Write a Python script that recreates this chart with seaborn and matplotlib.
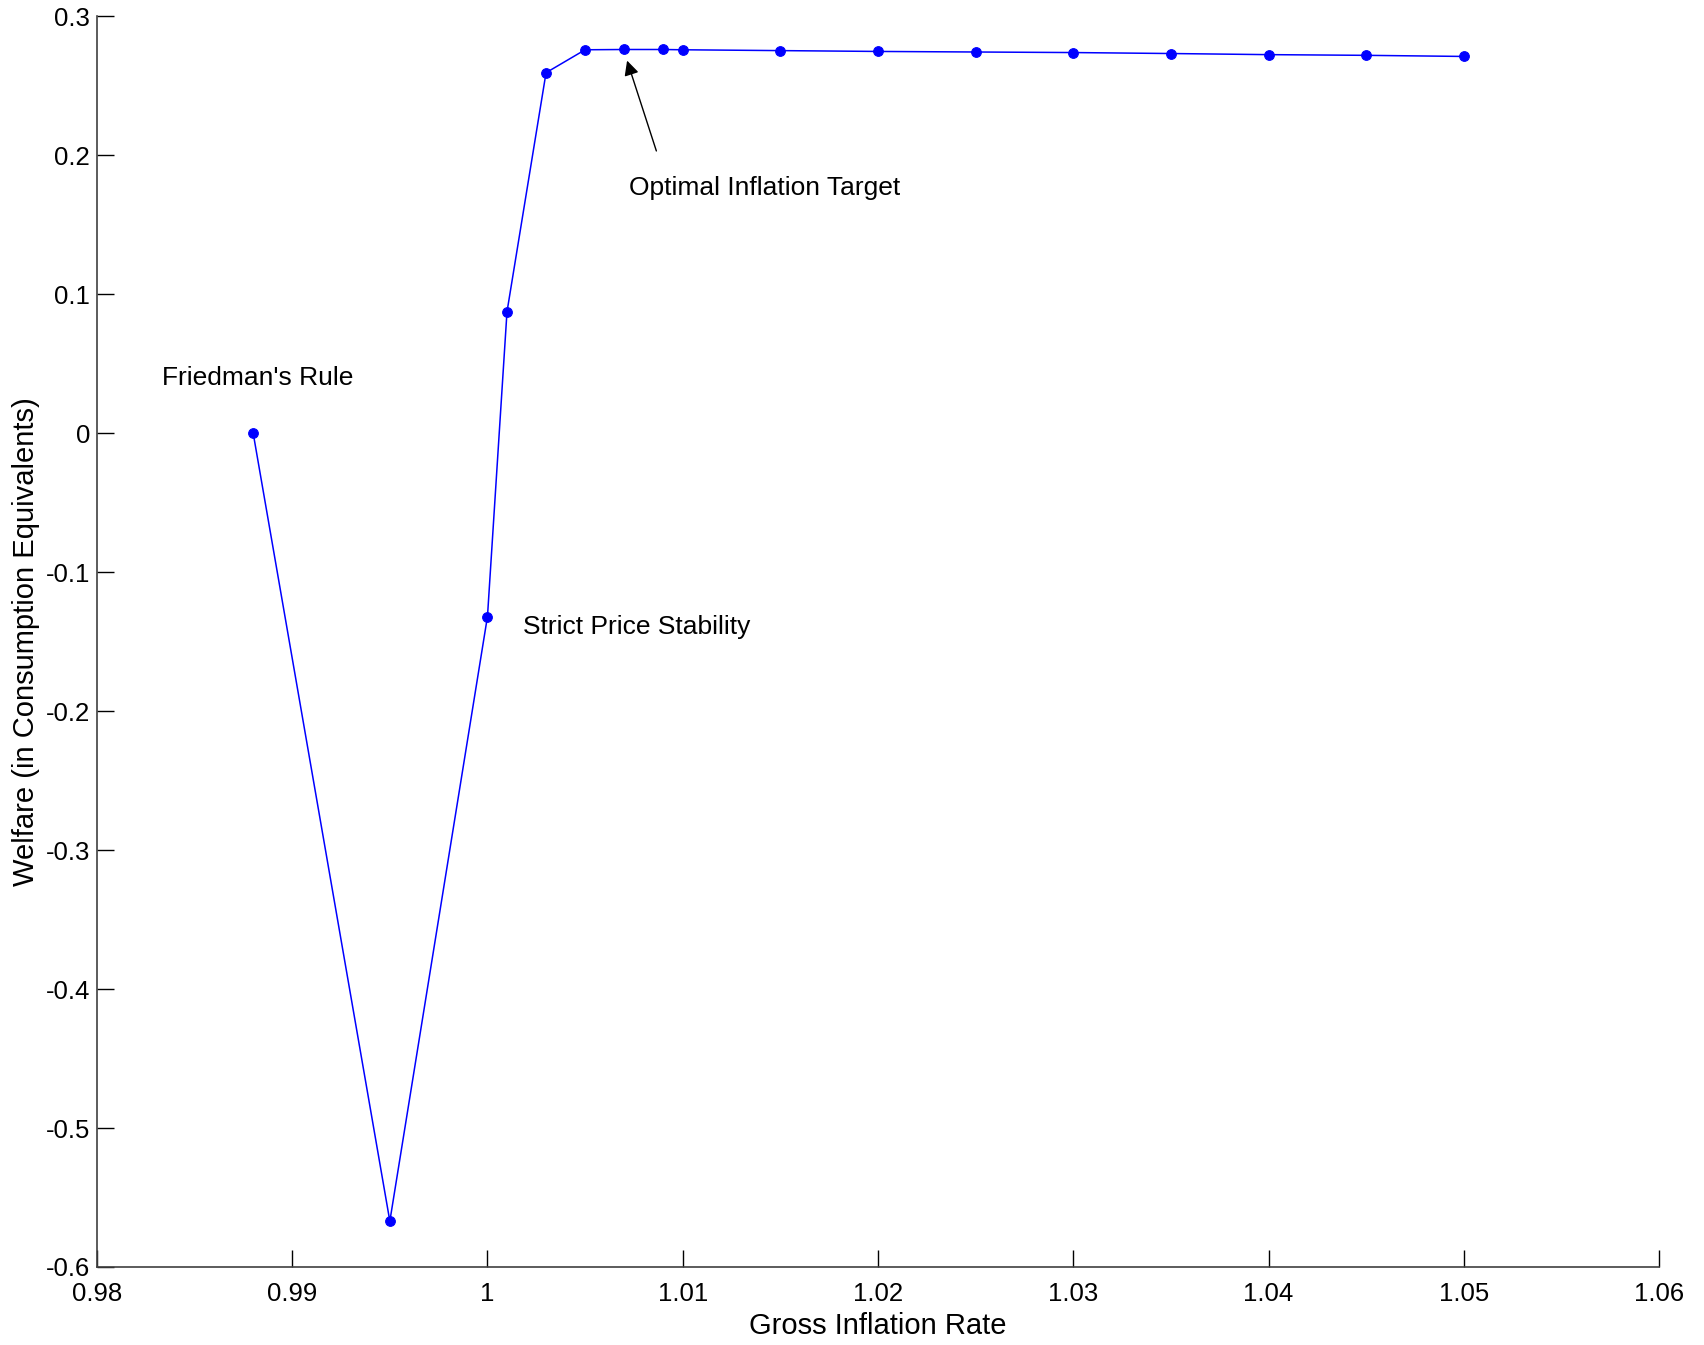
import numpy as np
import pandas as pd
import matplotlib
matplotlib.use("Agg")
import matplotlib.pyplot as plt
import seaborn as sns
from matplotlib.ticker import FuncFormatter

# Data
inflation = [0.988, 0.995, 1.000, 1.001, 1.003, 1.005, 1.007, 1.009, 1.010,
             1.015, 1.020, 1.025, 1.030, 1.035, 1.040, 1.045, 1.050]
welfare = [0.0, -0.567, -0.132, 0.0873, 0.2593, 0.2758, 0.2760, 0.2760, 0.2758,
           0.2752, 0.2746, 0.2742, 0.2738, 0.2731, 0.2723, 0.2718, 0.2710]

x_ticks = [0.98, 0.99, 1.00, 1.01, 1.02, 1.03, 1.04, 1.05, 1.06]
y_ticks = [-0.6, -0.5, -0.4, -0.3, -0.2, -0.1, 0.0, 0.1, 0.2, 0.3]

df = pd.DataFrame({'inflation': inflation, 'welfare': welfare})

sns.set_style("ticks")
plt.rcParams['font.family'] = ['Liberation Sans', 'DejaVu Sans']
plt.rcParams['text.color'] = 'black'
plt.rcParams['axes.labelcolor'] = 'black'

fig = plt.figure(figsize=(17.04, 13.45), dpi=100)
ax = fig.add_axes([0.0569, 0.058, 0.9167, 0.930])

sns.lineplot(data=df, x='inflation', y='welfare', ax=ax, color='#0000ff',
             linewidth=1.1, marker='o', markersize=7, markeredgecolor='#0000ff',
             sort=False)

ax.set_xlim(0.98, 1.06)
ax.set_ylim(-0.6, 0.3)
ax.set_xticks(x_ticks)
ax.set_yticks(y_ticks)
fmt = FuncFormatter(lambda v, p: '%g' % round(v, 4))
ax.xaxis.set_major_formatter(fmt)
ax.yaxis.set_major_formatter(fmt)
ax.tick_params(direction='in', length=12, width=1, colors='black',
               labelsize=18.5)
ax.tick_params(axis='x', pad=11)
ax.tick_params(axis='y', pad=5)
for side in ['top', 'right']:
    ax.spines[side].set_visible(False)
for side in ['left', 'bottom']:
    ax.spines[side].set_color('#404040')
    ax.spines[side].set_linewidth(1.2)

ax.set_xlabel('Gross Inflation Rate', fontsize=21, labelpad=4)
ax.set_ylabel('Welfare (in Consumption Equivalents)', fontsize=21, labelpad=4)

ax.text(0.98334, 0.0396, "Friedman's Rule", fontsize=19, va='center', ha='left')
ax.text(1.00181, -0.1394, "Strict Price Stability", fontsize=19, va='center', ha='left')
ax.text(1.00726, 0.1765, "Optimal Inflation Target", fontsize=19, va='center', ha='left')
ax.annotate('', xy=(1.00715, 0.268), xytext=(1.00865, 0.203),
            arrowprops=dict(arrowstyle='-|>', color='black', lw=1,
                            mutation_scale=22, shrinkA=0, shrinkB=0))

fig.savefig('out.png', dpi=100)
